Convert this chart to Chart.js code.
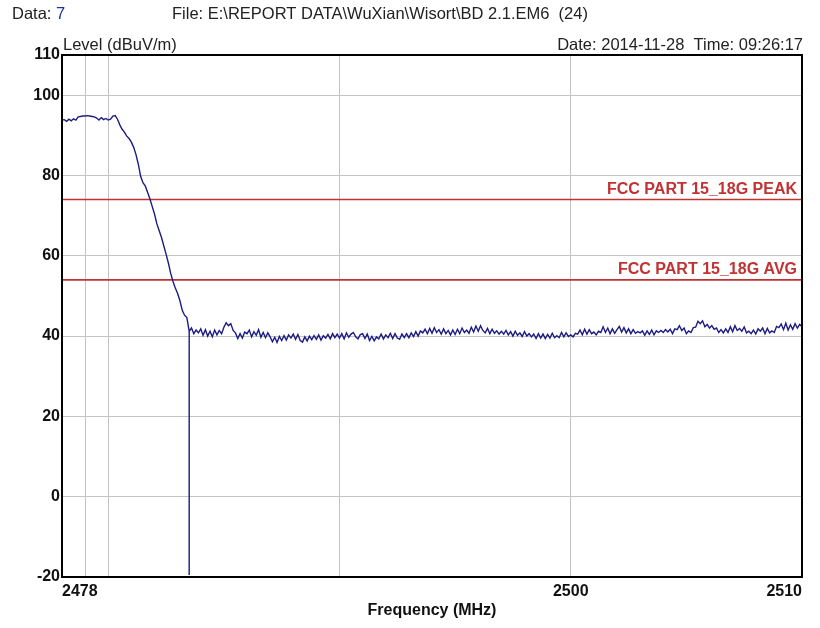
<!DOCTYPE html>
<html>
<head>
<meta charset="utf-8">
<script src="https://cdn.jsdelivr.net/npm/chart.js@4.4.1/dist/chart.umd.min.js"></script>
<style>
  html, body { margin: 0; padding: 0; background: #fff; }
  #chart { display: block; }
</style>
</head>
<body>
<canvas id="chart" width="820" height="628"></canvas>
<script>
// sweep: 2478 .. 2510 MHz, one reading every 0.1 MHz (rows of 1 MHz)
const FREQ_START = 2478;
const FREQ_STEP = 0.1;
const LEVELS = [
  93.8, 93.9, 93.5, 94.0, 93.6, 94.1, 93.8, 94.6, 94.7, 94.8, // 2478
  94.8, 94.9, 94.8, 94.7, 94.6, 94.3, 93.8, 94.4, 93.9, 94.2, // 2479
  93.8, 94.0, 94.8, 94.9, 94.0, 92.6, 91.5, 90.8, 89.8, 89.2, // 2480
  88.3, 87.0, 85.2, 82.8, 79.8, 78.2, 77.4, 75.8, 74.2, 72.3, // 2481
  70.4, 68.0, 66.3, 64.6, 62.5, 60.4, 58.2, 55.6, 53.6, 52.0, // 2482
  50.6, 48.8, 46.4, 45.2, 44.6, 41.2, 42.0, 40.6, 41.5, 40.8, // 2483
  41.8, 40.2, 41.6, 40.0, 41.2, 39.8, 41.5, 40.3, 41.4, 40.6, // 2484
  42.2, 43.3, 42.6, 43.1, 41.4, 40.8, 39.4, 40.6, 39.5, 41.0, // 2485
  40.6, 41.5, 39.8, 41.1, 40.2, 41.6, 39.7, 40.9, 39.6, 40.8, // 2486
  39.8, 38.6, 39.7, 38.4, 39.9, 38.9, 40.1, 39.0, 40.3, 39.5, // 2487
  40.5, 39.2, 40.4, 38.9, 38.5, 39.8, 38.8, 40.0, 39.1, 40.1, // 2488
  39.2, 40.3, 39.0, 40.1, 39.5, 40.4, 39.3, 40.6, 39.6, 40.5, // 2489
  39.5, 40.6, 39.3, 40.8, 39.7, 40.5, 40.9, 39.8, 39.3, 40.4, // 2490
  40.6, 39.4, 40.5, 38.9, 39.9, 38.8, 39.8, 39.3, 40.5, 39.3, // 2491
  40.3, 39.6, 40.7, 39.4, 40.6, 39.5, 39.2, 40.5, 39.6, 40.6, // 2492
  39.6, 40.8, 39.9, 41.1, 40.0, 41.3, 40.8, 41.7, 40.6, 41.9, // 2493
  40.7, 42.1, 40.9, 41.6, 40.5, 41.8, 40.6, 41.4, 40.3, 41.5, // 2494
  40.4, 41.7, 40.6, 42.0, 40.9, 41.5, 40.7, 42.2, 41.0, 42.5, // 2495
  41.2, 42.6, 41.4, 40.8, 41.9, 40.6, 41.7, 40.7, 41.3, 40.5, // 2496
  41.2, 40.5, 41.4, 40.3, 41.1, 40.0, 41.2, 40.2, 40.8, 39.9, // 2497
  41.1, 40.0, 40.6, 39.8, 40.5, 39.4, 40.6, 39.5, 40.5, 39.4, // 2498
  40.4, 39.5, 40.7, 39.6, 40.1, 39.6, 40.9, 39.8, 40.8, 39.9, // 2499
  40.3, 39.8, 40.7, 40.5, 41.5, 40.3, 41.7, 40.5, 41.6, 40.6, // 2500
  41.0, 40.3, 41.2, 40.9, 42.3, 40.9, 42.0, 40.6, 41.8, 40.7, // 2501
  41.6, 42.4, 41.0, 42.1, 40.8, 41.8, 40.6, 41.6, 40.7, 41.1, // 2502
  40.8, 41.3, 40.2, 41.3, 40.4, 41.5, 40.3, 41.3, 40.9, 41.4, // 2503
  40.9, 41.6, 41.0, 41.7, 40.6, 41.8, 41.6, 42.6, 41.4, 42.0, // 2504
  40.6, 41.3, 40.9, 42.1, 42.2, 43.7, 43.1, 43.8, 42.3, 42.9, // 2505
  42.0, 42.6, 41.7, 42.0, 40.9, 41.6, 40.8, 41.8, 40.9, 42.3, // 2506
  41.1, 42.6, 41.4, 41.9, 41.2, 42.3, 40.8, 41.2, 40.6, 41.5, // 2507
  40.5, 41.8, 41.2, 42.0, 40.6, 41.9, 40.8, 41.3, 40.9, 42.4, // 2508
  42.1, 43.0, 41.6, 43.2, 41.5, 42.8, 41.7, 43.1, 42.0, 42.9, // 2509
  42.3                                                        // 2510
];

// single dropout reading in the trace
const DROP_FREQ = 2483.5;
const DROP_LEVEL = -19.5;

const LIMIT_NAMES = ["FCC PART 15_18G PEAK", "FCC PART 15_18G AVG"];
const LIMIT_LEVELS = [74, 54];

const X_TICKS = [2478, 2479, 2480, 2490, 2500, 2510];
const X_LABELS = ["2478", "", "", "", "2500", "2510"];
const Y_TICKS = [-20, 0, 20, 40, 60, 80, 100, 110];

const HEADER_DATA = "Data: ";
const HEADER_DATA_NO = "7";
const HEADER_FILE = "File: E:\\REPORT DATA\\WuXian\\Wisort\\BD 2.1.EM6  (24)";
const HEADER_DATE = "Date: 2014-11-28  Time: 09:26:17";
const Y_TITLE = "Level (dBuV/m)";
const X_TITLE = "Frequency (MHz)";

const TRACE_COLOR = "#1c1c82";
const LIMIT_COLOR = "#c23232";
const GRID_COLOR = "#c4c4c4";
const SANS = "'Liberation Sans', Arial, sans-serif";

function buildTrace() {
  const pts = [];
  LEVELS.forEach((v, i) => {
    const f = +(FREQ_START + i * FREQ_STEP).toFixed(2);
    pts.push({ x: f, y: v });
    if (Math.abs(f - DROP_FREQ) < 1e-6) {
      pts.push({ x: f, y: DROP_LEVEL });
      pts.push({ x: f, y: v });
    }
  });
  return pts;
}

function limitLine(level) {
  return [{ x: X_TICKS[0], y: level }, { x: X_TICKS[X_TICKS.length - 1], y: level }];
}

const overlay = {
  id: "overlay",
  afterDraw(chart) {
    const { ctx, chartArea: a, scales } = chart;
    ctx.save();
    ctx.strokeStyle = "#000";
    ctx.lineWidth = 2;
    ctx.strokeRect(a.left, a.top, a.right - a.left, a.bottom - a.top);

    ctx.textBaseline = "alphabetic";
    ctx.fillStyle = LIMIT_COLOR;
    ctx.font = "bold 16px " + SANS;
    ctx.textAlign = "right";
    LIMIT_LEVELS.forEach((lv, i) => {
      ctx.fillText(LIMIT_NAMES[i], a.right - 5, scales.y.getPixelForValue(lv) - 6);
    });

    ctx.fillStyle = "#222";
    ctx.font = "16.5px " + SANS;
    ctx.textAlign = "left";
    ctx.fillText(HEADER_DATA, 12, 19);
    const w = ctx.measureText(HEADER_DATA).width;
    ctx.fillStyle = "#20309a";
    ctx.fillText(HEADER_DATA_NO, 12 + w, 19);
    ctx.fillStyle = "#222";
    ctx.fillText(HEADER_FILE, 172, 19);
    ctx.fillText(Y_TITLE, a.left + 1, a.top - 5);
    ctx.textAlign = "right";
    ctx.fillText(HEADER_DATE, a.right + 1, a.top - 5);
    ctx.restore();
  }
};

new Chart(document.getElementById("chart"), {
  type: "line",
  data: {
    datasets: [
      {
        data: buildTrace(),
        borderColor: TRACE_COLOR,
        borderWidth: 1.4,
        pointRadius: 0,
        tension: 0
      },
      ...LIMIT_LEVELS.map(lv => ({
        data: limitLine(lv),
        borderColor: LIMIT_COLOR,
        borderWidth: 1.6,
        pointRadius: 0
      }))
    ]
  },
  options: {
    responsive: false,
    animation: false,
    parsing: false,
    layout: { padding: { top: 55, right: 18, left: 0, bottom: 0 } },
    plugins: { legend: { display: false }, tooltip: { enabled: false } },
    scales: {
      x: {
        type: "linear",
        min: X_TICKS[0],
        max: X_TICKS[X_TICKS.length - 1],
        afterBuildTicks: s => { s.ticks = X_TICKS.map(v => ({ value: v })); },
        afterFit: s => { s.height = 51; },
        border: { display: false },
        grid: {
          drawTicks: false,
          color: c => (c.index === 0 || c.index === X_TICKS.length - 1 ? "rgba(0,0,0,0)" : GRID_COLOR)
        },
        ticks: {
          autoSkip: false,
          maxRotation: 0,
          align: "inner",
          padding: 5,
          color: "#111",
          font: { family: SANS, size: 16, weight: "bold" },
          callback: (v, i) => X_LABELS[i]
        },
        title: {
          display: true,
          text: X_TITLE,
          color: "#111",
          font: { family: SANS, size: 16, weight: "bold" },
          padding: { top: 0, bottom: 8 }
        }
      },
      y: {
        min: Y_TICKS[0],
        max: Y_TICKS[Y_TICKS.length - 1],
        afterBuildTicks: s => { s.ticks = Y_TICKS.map(v => ({ value: v })); },
        afterFit: s => { s.width = 62; },
        border: { display: false },
        grid: {
          drawTicks: false,
          color: c => (c.index === 0 || c.index === Y_TICKS.length - 1 ? "rgba(0,0,0,0)" : GRID_COLOR)
        },
        ticks: {
          padding: 2,
          color: "#111",
          font: { family: SANS, size: 16, weight: "bold" }
        }
      }
    }
  },
  plugins: [overlay]
});
</script>
</body>
</html>
